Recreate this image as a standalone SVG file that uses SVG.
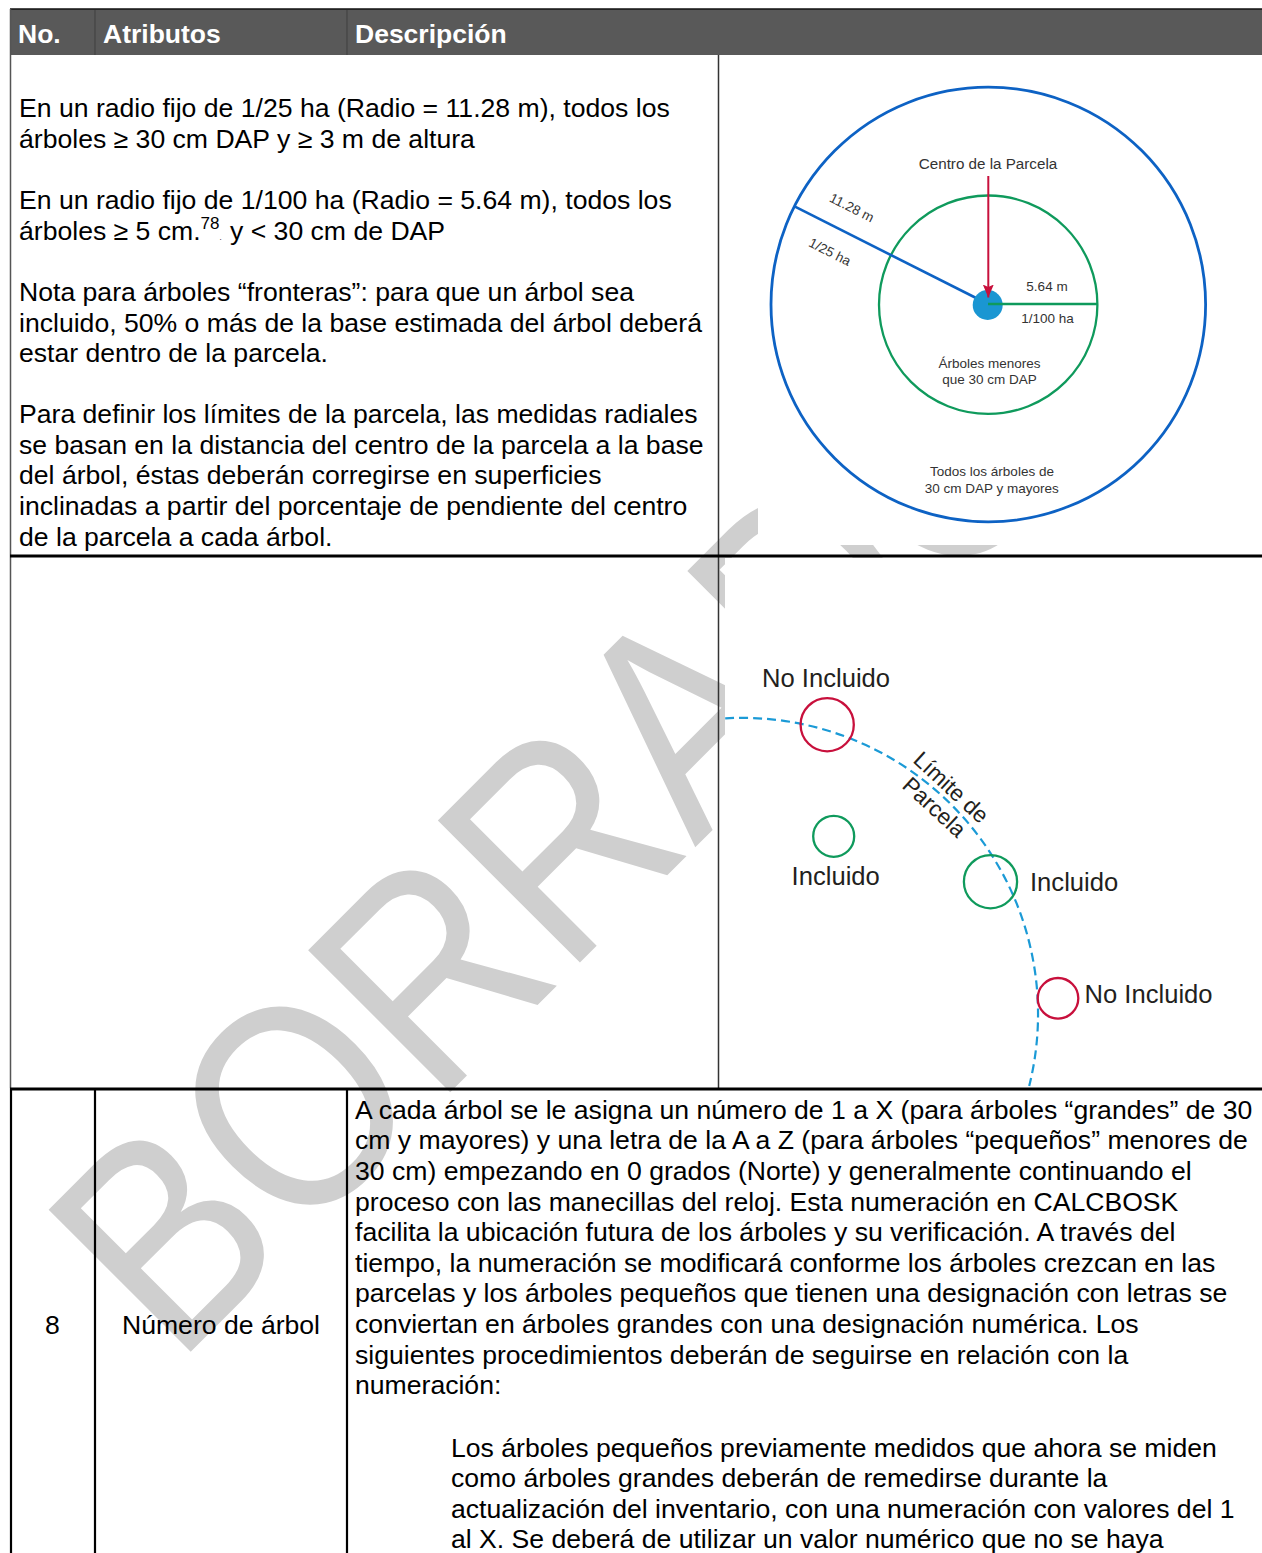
<svg xmlns="http://www.w3.org/2000/svg" width="1262" height="1553" viewBox="0 0 1262 1553">
<style>
.b{font-family:"Liberation Sans",Arial,sans-serif;font-size:26.6px;fill:#000}
.h{font-family:"Liberation Sans",Arial,sans-serif;font-size:26.5px;font-weight:bold;fill:#fff}
.s{font-family:"Liberation Sans",Arial,sans-serif;font-size:13.5px;fill:#333}
.l{font-family:"Liberation Sans",Arial,sans-serif;font-size:25.6px;fill:#231f20}
.red{fill:none;stroke:#c8103c;stroke-width:2.3}
.grn{fill:none;stroke:#0f9a5c;stroke-width:2.3}
</style>
<defs>
<marker id="ah" markerWidth="14" markerHeight="11" refX="13" refY="5.5" orient="auto" markerUnits="userSpaceOnUse" viewBox="0 0 14 11">
<path d="M0,0 L13,5.5 L0,11 L2.5,5.5 Z" fill="#c8103c"/>
</marker>
</defs>
<rect width="1262" height="1553" fill="#fff"/>
<!-- watermark -->
<text id="watermark" transform="translate(176,1366.5) rotate(-45) scale(1,1.15)" font-family="Liberation Sans, Arial, sans-serif" font-size="254" fill="#cfcfcf">BORRADOR</text>

<!-- table -->
<g id="table">
<rect x="10" y="9" width="1252" height="46" fill="#595959"/>
<line x1="10" y1="9" x2="1262" y2="9" stroke="#111" stroke-width="1.5"/>
<line x1="95" y1="10" x2="95" y2="55" stroke="#444" stroke-width="1.2"/>
<line x1="347" y1="10" x2="347" y2="55" stroke="#444" stroke-width="1.2"/>
<line x1="10.5" y1="9" x2="10.5" y2="1088" stroke="#555" stroke-width="1.5"/>
<line x1="11" y1="1088" x2="11" y2="1553" stroke="#000" stroke-width="2.2"/>
<line x1="718.5" y1="55" x2="718.5" y2="1088" stroke="#333" stroke-width="1.5"/>
<line x1="10" y1="556" x2="1262" y2="556" stroke="#000" stroke-width="3"/>
<line x1="10" y1="1089" x2="1262" y2="1089" stroke="#000" stroke-width="3"/>
<line x1="95" y1="1089" x2="95" y2="1553" stroke="#000" stroke-width="2.2"/>
<line x1="347" y1="1089" x2="347" y2="1553" stroke="#000" stroke-width="2.2"/>
</g>
<g id="header">
<text class="h" x="18" y="42.5">No.</text>
<text class="h" x="103" y="42.5">Atributos</text>
<text class="h" x="355" y="42.5">Descripción</text>
</g>
<g id="row1-text">
<text class="b" x="19" y="116.5">En un radio fijo de 1/25 ha (Radio = 11.28 m), todos los</text>
<text class="b" x="19" y="147.5">árboles ≥ 30 cm DAP y ≥ 3 m de altura</text>
<text class="b" x="19" y="208.5">En un radio fijo de 1/100 ha (Radio = 5.64 m), todos los</text>
<text class="b" x="19" y="239.5">árboles ≥ 5 cm.</text>
<text class="b" x="200.5" y="229" style="font-size:17px">78</text>
<text class="b" x="219.5" y="239.5" style="font-size:8px">.</text>
<text class="b" x="230" y="239.5">y &lt; 30 cm de DAP</text>
<text class="b" x="19" y="300.5">Nota para árboles “fronteras”: para que un árbol sea</text>
<text class="b" x="19" y="331.5">incluido, 50% o más de la base estimada del árbol deberá</text>
<text class="b" x="19" y="362">estar dentro de la parcela.</text>
<text class="b" x="19" y="423">Para definir los límites de la parcela, las medidas radiales</text>
<text class="b" x="19" y="453.7">se basan en la distancia del centro de la parcela a la base</text>
<text class="b" x="19" y="484.4">del árbol, éstas deberán corregirse en superficies</text>
<text class="b" x="19" y="515.1">inclinadas a partir del porcentaje de pendiente del centro</text>
<text class="b" x="19" y="545.8">de la parcela a cada árbol.</text>
</g>

<!-- image 1: plot circles -->
<g id="plot-diagram">
<rect x="758" y="60" width="500" height="485" fill="#fff"/>
<circle id="outer-circle" cx="988.3" cy="304.5" r="217.3" fill="none" stroke="#0d62c4" stroke-width="2.8"/>
<circle id="inner-circle" cx="988.2" cy="304.7" r="109.2" class="grn" stroke-width="2.8"/>
<line x1="795" y1="206.7" x2="988" y2="304" stroke="#0d62c4" stroke-width="2.6"/>
<circle id="center-dot" cx="987.7" cy="305" r="15" fill="#1a96d2"/>
<line x1="988" y1="304" x2="1097" y2="304" stroke="#0f9a5c" stroke-width="2.6"/>
<line x1="988.3" y1="176" x2="988.3" y2="297.5" stroke="#c8103c" stroke-width="2" marker-end="url(#ah)"/>
<text class="s" x="988" y="169.3" text-anchor="middle" style="font-size:15.2px">Centro de la Parcela</text>
<text class="s" transform="translate(849.8,211.8) rotate(26.76)" text-anchor="middle">11.28 m</text>
<text class="s" transform="translate(827.8,256) rotate(26.76)" text-anchor="middle">1/25 ha</text>
<text class="s" x="1047" y="290.7" text-anchor="middle">5.64 m</text>
<text class="s" x="1047.5" y="323.3" text-anchor="middle">1/100 ha</text>
<text class="s" x="989.5" y="368.3" text-anchor="middle">Árboles menores</text>
<text class="s" x="989.5" y="384" text-anchor="middle">que 30 cm DAP</text>
<text class="s" x="992" y="476" text-anchor="middle">Todos los árboles de</text>
<text class="s" x="991.7" y="492.7" text-anchor="middle">30 cm DAP y mayores</text>
</g>

<!-- image 2: boundary -->
<g id="boundary-diagram">
<rect x="725" y="558" width="537" height="529" fill="#fff"/>
<path id="plot-limit" d="M725.2,718.3 A296.3,296.3 0 0 1 1029.2,1086" fill="none" stroke="#1b9ad6" stroke-width="2.2" stroke-dasharray="9,5"/>
<g id="tree-out-1"><circle class="red" cx="827.2" cy="724.7" r="26.6"/><text class="l" x="762" y="687">No Incluido</text></g>
<g id="tree-in-1"><circle class="grn" cx="833.7" cy="836.3" r="20.5"/><text class="l" x="791.6" y="885">Incluido</text></g>
<g id="tree-in-2"><circle class="grn" cx="990.5" cy="881.7" r="26.6"/><text class="l" x="1030" y="890.7">Incluido</text></g>
<g id="tree-out-2"><circle class="red" cx="1058" cy="998.3" r="20.3"/><text class="l" x="1084.5" y="1003.3">No Incluido</text></g>
<g id="limit-label" transform="translate(946,793) rotate(42.7)">
<text class="l" x="0" y="0" text-anchor="middle" style="font-size:22.5px">Límite de</text>
<text class="l" x="1" y="26" text-anchor="middle" style="font-size:22.5px">Parcela</text>
</g>
</g>

<!-- row 3 -->
<g id="row3">
<text class="b" x="52.5" y="1333.5" text-anchor="middle">8</text>
<text class="b" x="221" y="1333.5" text-anchor="middle">Número de árbol</text>
<text class="b" x="355" y="1118.5">A cada árbol se le asigna un número de 1 a X (para árboles “grandes” de 30</text>
<text class="b" x="355" y="1149.2">cm y mayores) y una letra de la A a Z (para árboles “pequeños” menores de</text>
<text class="b" x="355" y="1179.8">30 cm) empezando en 0 grados (Norte) y generalmente continuando el</text>
<text class="b" x="355" y="1210.5">proceso con las manecillas del reloj. Esta numeración en CALCBOSK</text>
<text class="b" x="355" y="1241.1">facilita la ubicación futura de los árboles y su verificación. A través del</text>
<text class="b" x="355" y="1271.8">tiempo, la numeración se modificará conforme los árboles crezcan en las</text>
<text class="b" x="355" y="1302.4">parcelas y los árboles pequeños que tienen una designación con letras se</text>
<text class="b" x="355" y="1333.1">conviertan en árboles grandes con una designación numérica. Los</text>
<text class="b" x="355" y="1363.7">siguientes procedimientos deberán de seguirse en relación con la</text>
<text class="b" x="355" y="1394.4">numeración:</text>
<text class="b" x="451" y="1456.5">Los árboles pequeños previamente medidos que ahora se miden</text>
<text class="b" x="451" y="1487.1">como árboles grandes deberán de remedirse durante la</text>
<text class="b" x="451" y="1517.7">actualización del inventario, con una numeración con valores del 1</text>
<text class="b" x="451" y="1548.3">al X. Se deberá de utilizar un valor numérico que no se haya</text>
</g>
</svg>
